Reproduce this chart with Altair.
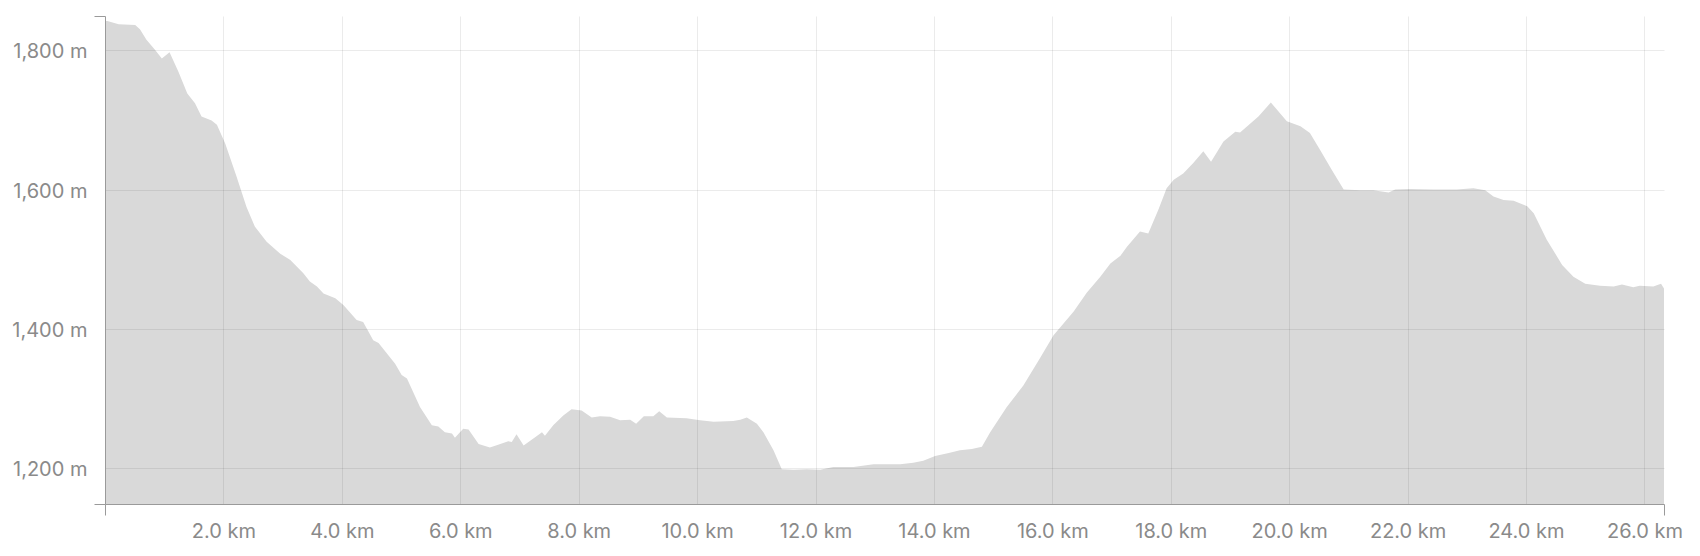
import altair as alt
import pandas as pd

distance_km = [
    0.0, 0.04, 0.23, 0.51, 0.59, 0.70, 0.84, 0.96, 1.09, 1.24,
    1.39, 1.52, 1.63, 1.80, 1.89, 2.03, 2.22, 2.39, 2.53, 2.73,
    2.96, 3.13, 3.35, 3.46, 3.58, 3.69, 3.89, 4.03, 4.25, 4.36,
    4.53, 4.62, 4.90, 5.01, 5.10, 5.32, 5.52, 5.63, 5.74, 5.86,
    5.91, 6.05, 6.14, 6.31, 6.50, 6.64, 6.81, 6.87, 6.95, 7.07,
    7.27, 7.38, 7.43, 7.57, 7.74, 7.88, 8.05, 8.22, 8.36, 8.53,
    8.70, 8.87, 8.97, 9.10, 9.26, 9.36, 9.49, 9.82, 10.05, 10.28,
    10.61, 10.73, 10.84, 11.01, 11.12, 11.29, 11.43, 11.63, 11.85, 12.08,
    12.30, 12.64, 12.98, 13.21, 13.43, 13.65, 13.82, 14.02, 14.25, 14.44,
    14.64, 14.81, 14.95, 15.23, 15.51, 15.79, 16.02, 16.36, 16.58, 16.81,
    16.98, 17.15, 17.26, 17.48, 17.62, 17.79, 17.93, 18.05, 18.21, 18.38,
    18.55, 18.68, 18.89, 19.09, 19.17, 19.48, 19.69, 19.96, 20.19, 20.35,
    20.52, 20.72, 20.92, 21.20, 21.42, 21.68, 21.79, 22.04, 22.43, 22.83,
    23.11, 23.31, 23.45, 23.62, 23.79, 24.02, 24.13, 24.35, 24.61, 24.80,
    25.00, 25.25, 25.48, 25.62, 25.81, 25.92, 26.15, 26.28, 26.33,
]

elevation_m = [
    1842, 1842, 1837, 1836, 1830, 1815, 1801, 1788, 1797, 1769,
    1738, 1724, 1705, 1699, 1693, 1666, 1619, 1575, 1547, 1525,
    1508, 1499, 1480, 1468, 1461, 1451, 1444, 1434, 1413, 1410,
    1384, 1380, 1350, 1334, 1329, 1288, 1262, 1260, 1252, 1250,
    1244, 1257, 1256, 1235, 1230, 1234, 1239, 1238, 1249, 1233,
    1245, 1252, 1247, 1262, 1276, 1285, 1283, 1273, 1275, 1274,
    1269, 1270, 1264, 1275, 1275, 1282, 1273, 1272, 1269, 1267,
    1268, 1270, 1273, 1264, 1252, 1226, 1199, 1198, 1199, 1198,
    1202, 1202, 1206, 1206, 1206, 1208, 1211, 1218, 1222, 1226,
    1228, 1231, 1252, 1288, 1319, 1358, 1391, 1425, 1452, 1475,
    1494, 1505, 1518, 1540, 1537, 1571, 1602, 1614, 1623, 1638,
    1655, 1640, 1669, 1683, 1682, 1705, 1725, 1698, 1691, 1681,
    1657, 1628, 1600, 1599, 1599, 1596, 1600, 1601, 1600, 1600,
    1602, 1599, 1590, 1585, 1584, 1576, 1566, 1528, 1492, 1475,
    1465, 1462, 1461, 1464, 1460, 1462, 1461, 1465, 1458,
]

x_ticks = [2, 4, 6, 8, 10, 12, 14, 16, 18, 20, 22, 24, 26]
y_ticks = [1200, 1400, 1600, 1800]
x_domain = [0, 26.33]
y_domain = [1149, 1849]

df = pd.DataFrame({"km": distance_km, "elev": elevation_m})

x_values = [x_domain[0]] + x_ticks + [x_domain[1]]
y_values = [y_domain[0]] + y_ticks + [y_domain[1]]

x_edge = f"datum.value < {x_ticks[0] - 1} || datum.value > {x_ticks[-1] + 0.1}"
y_edge = f"datum.value < {y_ticks[0] - 1} || datum.value > {y_ticks[-1] + 1}"

FONT = "Inter"
LABEL_COLOR = "#8a8a8a"
AXIS_COLOR = "#9a9a9a"

x_axis = alt.Axis(
    values=x_values,
    title=None,
    labelExpr=f"({x_edge}) ? '' : format(datum.value, '.1f') + ' km'",
    labelFont=FONT,
    labelFontSize=20,
    labelColor=LABEL_COLOR,
    labelPadding=6,
    labelFlush=False,
    labelOverlap=False,
    domainColor=AXIS_COLOR,
    domainWidth=1,
    tickColor=AXIS_COLOR,
    tickSize=11,
    tickWidth=1,
    tickOpacity={"condition": {"test": x_edge, "value": 1}, "value": 0},
    grid=True,
    gridColor="#000000",
    gridWidth=1,
    gridOpacity={"condition": {"test": x_edge, "value": 0}, "value": 0.08},
    zindex=1,
)

y_axis = alt.Axis(
    values=y_values,
    title=None,
    labelExpr=f"({y_edge}) ? '' : format(datum.value, ',') + ' m'",
    labelFont=FONT,
    labelFontSize=20,
    labelColor=LABEL_COLOR,
    labelPadding=7,
    labelOffset=1.5,
    labelFlush=False,
    labelOverlap=False,
    domainColor=AXIS_COLOR,
    domainWidth=1,
    tickColor=AXIS_COLOR,
    tickSize=11,
    tickWidth=1,
    tickOpacity={"condition": {"test": y_edge, "value": 1}, "value": 0},
    grid=True,
    gridColor="#000000",
    gridWidth=1,
    gridOpacity={"condition": {"test": y_edge, "value": 0}, "value": 0.08},
    zindex=1,
)

chart = (
    alt.Chart(df)
    .mark_area(color="#d9d9d9", opacity=1, clip=True)
    .encode(
        x=alt.X("km:Q", scale=alt.Scale(domain=x_domain, nice=False, zero=False), axis=x_axis),
        y=alt.Y("elev:Q", scale=alt.Scale(domain=y_domain, nice=False, zero=False), axis=y_axis),
    )
    .properties(
        width=1559,
        height=488,
        autosize=alt.AutoSizeParams(type="none"),
        padding={"left": 97, "top": 8, "right": 20, "bottom": 40},
    )
    .configure(background="white", view=alt.ViewConfig(strokeWidth=0, stroke=None))
)

chart.save("out.html", embed_options={"renderer": "svg", "actions": False})
